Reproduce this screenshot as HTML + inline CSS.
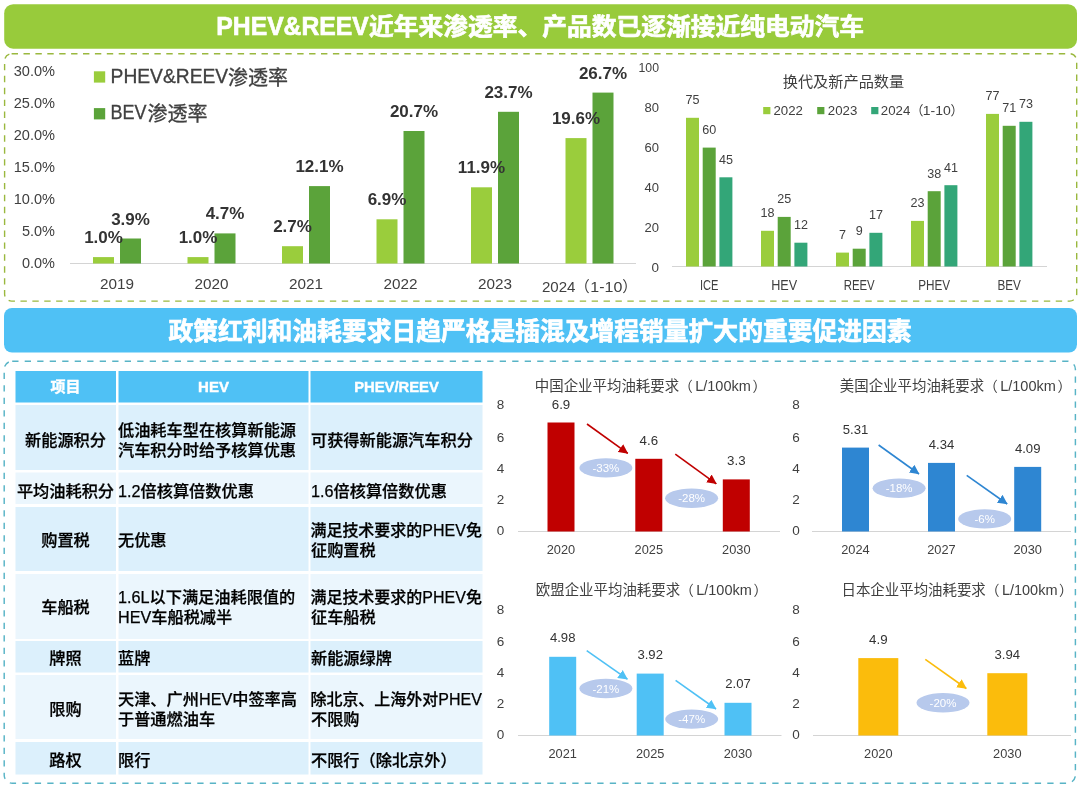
<!DOCTYPE html>
<html lang="zh-CN"><head><meta charset="utf-8"><title>PHEV&amp;REEV</title>
<style>html,body{margin:0;padding:0;background:#fff}body{width:1080px;height:790px;overflow:hidden}svg{display:block;font-family:'Liberation Sans', 'Noto Sans CJK SC', sans-serif}</style></head><body>
<svg width="1080" height="790" viewBox="0 0 1080 790">
<rect x="0" y="0" width="1080" height="790" fill="#ffffff"/>
<rect x="4.2" y="4.2" width="1072.8" height="44.5" fill="#98CB3B" rx="9" ry="9"/>
<text fill="#fff" font-weight="bold" stroke="#fff" stroke-width="0.65"><tspan x="216.3" y="35.4" font-size="25.5" textLength="152.5" lengthAdjust="spacingAndGlyphs">PHEV&amp;REEV</tspan><tspan x="369" y="34.8" font-size="24" textLength="495" lengthAdjust="spacingAndGlyphs">近年来渗透率、产品数已逐渐接近纯电动汽车</tspan></text>
<rect x="4.6" y="53.7" width="1072.1" height="247.4" rx="7" ry="7" fill="none" stroke="#9AB83E" stroke-width="1.4" stroke-dasharray="6.4 5.5"/>
<text x="55" y="76.3" font-size="15.3" fill="#404040" text-anchor="end" textLength="41.3" lengthAdjust="spacingAndGlyphs">30.0%</text>
<text x="55" y="108.3" font-size="15.3" fill="#404040" text-anchor="end" textLength="41.3" lengthAdjust="spacingAndGlyphs">25.0%</text>
<text x="55" y="140.3" font-size="15.3" fill="#404040" text-anchor="end" textLength="41.3" lengthAdjust="spacingAndGlyphs">20.0%</text>
<text x="55" y="172.3" font-size="15.3" fill="#404040" text-anchor="end" textLength="41.3" lengthAdjust="spacingAndGlyphs">15.0%</text>
<text x="55" y="204.3" font-size="15.3" fill="#404040" text-anchor="end" textLength="41.3" lengthAdjust="spacingAndGlyphs">10.0%</text>
<text x="55" y="236.3" font-size="15.3" fill="#404040" text-anchor="end" textLength="33" lengthAdjust="spacingAndGlyphs">5.0%</text>
<text x="55" y="268.3" font-size="15.3" fill="#404040" text-anchor="end" textLength="33" lengthAdjust="spacingAndGlyphs">0.0%</text>
<line x1="70" y1="263.5" x2="636" y2="263.5" stroke="#d4d4d4" stroke-width="1"/>
<rect x="93.9" y="71.3" width="11.3" height="11.3" fill="#9ACD3C"/>
<text fill="#404040" stroke="#404040" stroke-width="0.3"><tspan x="110.6" y="83.1" font-size="19.5" textLength="117.5" lengthAdjust="spacingAndGlyphs">PHEV&amp;REEV</tspan><tspan x="228" y="84.8" font-size="20">渗透率</tspan></text>
<rect x="93.9" y="108.1" width="11.3" height="11.3" fill="#5BA33A"/>
<text fill="#404040" stroke="#404040" stroke-width="0.3"><tspan x="110.6" y="119.4" font-size="19.5" textLength="36" lengthAdjust="spacingAndGlyphs">BEV</tspan><tspan x="147.5" y="121.3" font-size="20">渗透率</tspan></text>
<rect x="93.0" y="257.1" width="21" height="6.4" fill="#9ACD3C"/>
<rect x="120.0" y="238.5" width="21" height="25.0" fill="#5BA33A"/>
<rect x="187.5" y="257.1" width="21" height="6.4" fill="#9ACD3C"/>
<rect x="214.5" y="233.4" width="21" height="30.1" fill="#5BA33A"/>
<rect x="282.0" y="246.2" width="21" height="17.3" fill="#9ACD3C"/>
<rect x="309.0" y="186.1" width="21" height="77.4" fill="#5BA33A"/>
<rect x="376.5" y="219.3" width="21" height="44.2" fill="#9ACD3C"/>
<rect x="403.5" y="131.0" width="21" height="132.5" fill="#5BA33A"/>
<rect x="471.0" y="187.3" width="21" height="76.2" fill="#9ACD3C"/>
<rect x="498.0" y="111.8" width="21" height="151.7" fill="#5BA33A"/>
<rect x="565.5" y="138.1" width="21" height="125.4" fill="#9ACD3C"/>
<rect x="592.5" y="92.6" width="21" height="170.9" fill="#5BA33A"/>
<text x="103.5" y="243.1" font-size="17" fill="#333" text-anchor="middle" font-weight="bold">1.0%</text>
<text x="130.5" y="224.5" font-size="17" fill="#333" text-anchor="middle" font-weight="bold">3.9%</text>
<text x="117.0" y="289.2" font-size="15.5" fill="#404040" text-anchor="middle" textLength="34" lengthAdjust="spacingAndGlyphs">2019</text>
<text x="198.0" y="243.1" font-size="17" fill="#333" text-anchor="middle" font-weight="bold">1.0%</text>
<text x="225.0" y="219.4" font-size="17" fill="#333" text-anchor="middle" font-weight="bold">4.7%</text>
<text x="211.5" y="289.2" font-size="15.5" fill="#404040" text-anchor="middle" textLength="34" lengthAdjust="spacingAndGlyphs">2020</text>
<text x="292.5" y="232.2" font-size="17" fill="#333" text-anchor="middle" font-weight="bold">2.7%</text>
<text x="319.5" y="172.1" font-size="17" fill="#333" text-anchor="middle" font-weight="bold">12.1%</text>
<text x="306.0" y="289.2" font-size="15.5" fill="#404040" text-anchor="middle" textLength="34" lengthAdjust="spacingAndGlyphs">2021</text>
<text x="387.0" y="205.3" font-size="17" fill="#333" text-anchor="middle" font-weight="bold">6.9%</text>
<text x="414.0" y="117.0" font-size="17" fill="#333" text-anchor="middle" font-weight="bold">20.7%</text>
<text x="400.5" y="289.2" font-size="15.5" fill="#404040" text-anchor="middle" textLength="34" lengthAdjust="spacingAndGlyphs">2022</text>
<text x="481.5" y="173.3" font-size="17" fill="#333" text-anchor="middle" font-weight="bold">11.9%</text>
<text x="508.5" y="97.8" font-size="17" fill="#333" text-anchor="middle" font-weight="bold">23.7%</text>
<text x="495.0" y="289.2" font-size="15.5" fill="#404040" text-anchor="middle" textLength="34" lengthAdjust="spacingAndGlyphs">2023</text>
<text x="576.0" y="124.1" font-size="17" fill="#333" text-anchor="middle" font-weight="bold">19.6%</text>
<text x="603.0" y="78.6" font-size="17" fill="#333" text-anchor="middle" font-weight="bold">26.7%</text>
<text fill="#404040"><tspan x="542" y="292" font-size="15.5" textLength="33.5" lengthAdjust="spacingAndGlyphs">2024</tspan><tspan x="574.8" y="291.5" font-size="15">（</tspan><tspan x="590.3" y="292" font-size="15.5" textLength="32" lengthAdjust="spacingAndGlyphs">1-10</tspan><tspan x="622.3" y="291.5" font-size="15">）</tspan></text>
<text x="659" y="72.2" font-size="13" fill="#404040" text-anchor="end" textLength="20.5" lengthAdjust="spacingAndGlyphs">100</text>
<text x="659" y="112.2" font-size="13" fill="#404040" text-anchor="end" textLength="14.5" lengthAdjust="spacingAndGlyphs">80</text>
<text x="659" y="152.2" font-size="13" fill="#404040" text-anchor="end" textLength="14.5" lengthAdjust="spacingAndGlyphs">60</text>
<text x="659" y="192.2" font-size="13" fill="#404040" text-anchor="end" textLength="14.5" lengthAdjust="spacingAndGlyphs">40</text>
<text x="659" y="232.2" font-size="13" fill="#404040" text-anchor="end" textLength="14.5" lengthAdjust="spacingAndGlyphs">20</text>
<text x="659" y="272.2" font-size="13" fill="#404040" text-anchor="end" textLength="7.5" lengthAdjust="spacingAndGlyphs">0</text>
<line x1="672" y1="266.5" x2="1047" y2="266.5" stroke="#d4d4d4" stroke-width="1"/>
<text x="843.5" y="87" font-size="15.3" fill="#404040" text-anchor="middle" textLength="121.5" lengthAdjust="spacingAndGlyphs">换代及新产品数量</text>
<rect x="763.2" y="107" width="7.2" height="7.2" fill="#9ACD3C"/>
<text x="773.5" y="114.8" font-size="13.5" fill="#404040" textLength="29.5" lengthAdjust="spacingAndGlyphs">2022</text>
<rect x="817.2" y="107" width="7.2" height="7.2" fill="#5BA33A"/>
<text x="827.8" y="114.8" font-size="13.5" fill="#404040" textLength="29.5" lengthAdjust="spacingAndGlyphs">2023</text>
<rect x="871.2" y="107" width="7.2" height="7.2" fill="#33A678"/>
<text fill="#404040"><tspan x="880.8" y="114.8" font-size="13.5" textLength="29.5" lengthAdjust="spacingAndGlyphs">2024</tspan><tspan x="910.5" y="114.5" font-size="13">（</tspan><tspan x="922.8" y="114.8" font-size="13.5" textLength="28" lengthAdjust="spacingAndGlyphs">1-10</tspan><tspan x="950.6" y="114.5" font-size="13">）</tspan></text>
<rect x="686.0" y="117.8" width="13" height="148.7" fill="#9ACD3C"/>
<text x="692.5" y="104.2" font-size="13" fill="#404040" text-anchor="middle" textLength="14" lengthAdjust="spacingAndGlyphs">75</text>
<rect x="702.7" y="147.6" width="13" height="118.9" fill="#5BA33A"/>
<text x="709.2" y="134.0" font-size="13" fill="#404040" text-anchor="middle" textLength="14" lengthAdjust="spacingAndGlyphs">60</text>
<rect x="719.4" y="177.3" width="13" height="89.2" fill="#33A678"/>
<text x="725.9" y="163.7" font-size="13" fill="#404040" text-anchor="middle" textLength="14" lengthAdjust="spacingAndGlyphs">45</text>
<text x="709.2" y="290" font-size="13.8" fill="#404040" text-anchor="middle" textLength="18.5" lengthAdjust="spacingAndGlyphs">ICE</text>
<rect x="761.0" y="230.8" width="13" height="35.7" fill="#9ACD3C"/>
<text x="767.5" y="217.2" font-size="13" fill="#404040" text-anchor="middle" textLength="14" lengthAdjust="spacingAndGlyphs">18</text>
<rect x="777.7" y="216.9" width="13" height="49.5" fill="#5BA33A"/>
<text x="784.2" y="203.3" font-size="13" fill="#404040" text-anchor="middle" textLength="14" lengthAdjust="spacingAndGlyphs">25</text>
<rect x="794.4" y="242.7" width="13" height="23.8" fill="#33A678"/>
<text x="800.9" y="229.1" font-size="13" fill="#404040" text-anchor="middle" textLength="14" lengthAdjust="spacingAndGlyphs">12</text>
<text x="784.2" y="290" font-size="13.8" fill="#404040" text-anchor="middle" textLength="26" lengthAdjust="spacingAndGlyphs">HEV</text>
<rect x="836.0" y="252.6" width="13" height="13.9" fill="#9ACD3C"/>
<text x="842.5" y="239.0" font-size="13" fill="#404040" text-anchor="middle" textLength="7" lengthAdjust="spacingAndGlyphs">7</text>
<rect x="852.7" y="248.7" width="13" height="17.8" fill="#5BA33A"/>
<text x="859.2" y="235.1" font-size="13" fill="#404040" text-anchor="middle" textLength="7" lengthAdjust="spacingAndGlyphs">9</text>
<rect x="869.4" y="232.8" width="13" height="33.7" fill="#33A678"/>
<text x="875.9" y="219.2" font-size="13" fill="#404040" text-anchor="middle" textLength="14" lengthAdjust="spacingAndGlyphs">17</text>
<text x="859.2" y="290" font-size="13.8" fill="#404040" text-anchor="middle" textLength="31" lengthAdjust="spacingAndGlyphs">REEV</text>
<rect x="911.0" y="220.9" width="13" height="45.6" fill="#9ACD3C"/>
<text x="917.5" y="207.3" font-size="13" fill="#404040" text-anchor="middle" textLength="14" lengthAdjust="spacingAndGlyphs">23</text>
<rect x="927.7" y="191.2" width="13" height="75.3" fill="#5BA33A"/>
<text x="934.2" y="177.6" font-size="13" fill="#404040" text-anchor="middle" textLength="14" lengthAdjust="spacingAndGlyphs">38</text>
<rect x="944.4" y="185.2" width="13" height="81.3" fill="#33A678"/>
<text x="950.9" y="171.6" font-size="13" fill="#404040" text-anchor="middle" textLength="14" lengthAdjust="spacingAndGlyphs">41</text>
<text x="934.2" y="290" font-size="13.8" fill="#404040" text-anchor="middle" textLength="32" lengthAdjust="spacingAndGlyphs">PHEV</text>
<rect x="986.0" y="113.9" width="13" height="152.6" fill="#9ACD3C"/>
<text x="992.5" y="100.3" font-size="13" fill="#404040" text-anchor="middle" textLength="14" lengthAdjust="spacingAndGlyphs">77</text>
<rect x="1002.7" y="125.8" width="13" height="140.7" fill="#5BA33A"/>
<text x="1009.2" y="112.2" font-size="13" fill="#404040" text-anchor="middle" textLength="14" lengthAdjust="spacingAndGlyphs">71</text>
<rect x="1019.4" y="121.8" width="13" height="144.7" fill="#33A678"/>
<text x="1025.9" y="108.2" font-size="13" fill="#404040" text-anchor="middle" textLength="14" lengthAdjust="spacingAndGlyphs">73</text>
<text x="1009.2" y="290" font-size="13.8" fill="#404040" text-anchor="middle" textLength="23.5" lengthAdjust="spacingAndGlyphs">BEV</text>
<rect x="4" y="308" width="1073" height="44.5" fill="#4FC1F5" rx="8" ry="8"/>
<text x="168.5" y="340" font-size="24.5" fill="#fff" font-weight="bold" textLength="743" lengthAdjust="spacingAndGlyphs" stroke="#fff" stroke-width="0.7">政策红利和油耗要求日趋严格是插混及增程销量扩大的重要促进因素</text>
<rect x="4.2" y="361.2" width="1071.2" height="422" rx="8" ry="8" fill="none" stroke="#58B4C6" stroke-width="1.45" stroke-dasharray="6.3 6.2"/>
<rect x="15.5" y="371" width="100.5" height="31.5" fill="#4FC1F5"/>
<rect x="118.5" y="371" width="190.0" height="31.5" fill="#4FC1F5"/>
<rect x="310.5" y="371" width="172.0" height="31.5" fill="#4FC1F5"/>
<rect x="15.5" y="405" width="100.5" height="65" fill="#DCF0FC"/>
<rect x="118.5" y="405" width="190.0" height="65" fill="#DCF0FC"/>
<rect x="310.5" y="405" width="172.0" height="65" fill="#DCF0FC"/>
<rect x="15.5" y="472.5" width="100.5" height="31.5" fill="#EBF6FD"/>
<rect x="118.5" y="472.5" width="190.0" height="31.5" fill="#EBF6FD"/>
<rect x="310.5" y="472.5" width="172.0" height="31.5" fill="#EBF6FD"/>
<rect x="15.5" y="507" width="100.5" height="64" fill="#DCF0FC"/>
<rect x="118.5" y="507" width="190.0" height="64" fill="#DCF0FC"/>
<rect x="310.5" y="507" width="172.0" height="64" fill="#DCF0FC"/>
<rect x="15.5" y="574" width="100.5" height="65" fill="#EBF6FD"/>
<rect x="118.5" y="574" width="190.0" height="65" fill="#EBF6FD"/>
<rect x="310.5" y="574" width="172.0" height="65" fill="#EBF6FD"/>
<rect x="15.5" y="641" width="100.5" height="31.5" fill="#DCF0FC"/>
<rect x="118.5" y="641" width="190.0" height="31.5" fill="#DCF0FC"/>
<rect x="310.5" y="641" width="172.0" height="31.5" fill="#DCF0FC"/>
<rect x="15.5" y="675" width="100.5" height="64" fill="#EBF6FD"/>
<rect x="118.5" y="675" width="190.0" height="64" fill="#EBF6FD"/>
<rect x="310.5" y="675" width="172.0" height="64" fill="#EBF6FD"/>
<rect x="15.5" y="742" width="100.5" height="32.5" fill="#DCF0FC"/>
<rect x="118.5" y="742" width="190.0" height="32.5" fill="#DCF0FC"/>
<rect x="310.5" y="742" width="172.0" height="32.5" fill="#DCF0FC"/>
<text x="65.5" y="392.25" font-size="15" fill="#fff" text-anchor="middle" font-weight="bold" stroke="#fff" stroke-width="0.4">项目</text>
<text x="213.5" y="392.25" font-size="15" fill="#fff" text-anchor="middle" font-weight="bold" stroke="#fff" stroke-width="0.4">HEV</text>
<text x="396.5" y="392.25" font-size="15" fill="#fff" text-anchor="middle" font-weight="bold" textLength="84.5" lengthAdjust="spacingAndGlyphs" stroke="#fff" stroke-width="0.4">PHEV/REEV</text>
<text x="65.5" y="445.8" font-size="16.2" fill="#000" text-anchor="middle" font-weight="500" stroke="#000" stroke-width="0.25">新能源积分</text>
<text x="118" y="435.8" font-size="16.2" fill="#000" font-weight="500" stroke="#000" stroke-width="0.25">低油耗车型在核算新能源</text>
<text x="118" y="455.8" font-size="16.2" fill="#000" font-weight="500" stroke="#000" stroke-width="0.25">汽车积分时给予核算优惠</text>
<text x="311" y="445.8" font-size="16.2" fill="#000" font-weight="500" stroke="#000" stroke-width="0.25">可获得新能源汽车积分</text>
<text x="65.5" y="496.6" font-size="16.2" fill="#000" text-anchor="middle" font-weight="500" stroke="#000" stroke-width="0.25">平均油耗积分</text>
<text x="118" y="496.6" font-size="16.2" fill="#000" font-weight="500" stroke="#000" stroke-width="0.25">1.2倍核算倍数优惠</text>
<text x="311" y="496.6" font-size="16.2" fill="#000" font-weight="500" stroke="#000" stroke-width="0.25">1.6倍核算倍数优惠</text>
<text x="65.5" y="545.7" font-size="16.2" fill="#000" text-anchor="middle" font-weight="500" stroke="#000" stroke-width="0.25">购置税</text>
<text x="118" y="545.7" font-size="16.2" fill="#000" font-weight="500" stroke="#000" stroke-width="0.25">无优惠</text>
<text x="310.4" y="535.7" font-size="16.2" fill="#000" font-weight="500" textLength="171.5" lengthAdjust="spacingAndGlyphs" stroke="#000" stroke-width="0.25">满足技术要求的PHEV免</text>
<text x="311" y="555.7" font-size="16.2" fill="#000" font-weight="500" stroke="#000" stroke-width="0.25">征购置税</text>
<text x="65.5" y="613.4" font-size="16.2" fill="#000" text-anchor="middle" font-weight="500" stroke="#000" stroke-width="0.25">车船税</text>
<text x="118" y="603.4" font-size="16.2" fill="#000" font-weight="500" stroke="#000" stroke-width="0.25">1.6L以下满足油耗限值的</text>
<text x="118" y="623.4" font-size="16.2" fill="#000" font-weight="500" stroke="#000" stroke-width="0.25">HEV车船税减半</text>
<text x="310.4" y="603.4" font-size="16.2" fill="#000" font-weight="500" textLength="171.5" lengthAdjust="spacingAndGlyphs" stroke="#000" stroke-width="0.25">满足技术要求的PHEV免</text>
<text x="311" y="623.4" font-size="16.2" fill="#000" font-weight="500" stroke="#000" stroke-width="0.25">征车船税</text>
<text x="65.5" y="664.2" font-size="16.2" fill="#000" text-anchor="middle" font-weight="500" stroke="#000" stroke-width="0.25">牌照</text>
<text x="118" y="664.2" font-size="16.2" fill="#000" font-weight="500" stroke="#000" stroke-width="0.25">蓝牌</text>
<text x="311" y="664.2" font-size="16.2" fill="#000" font-weight="500" stroke="#000" stroke-width="0.25">新能源绿牌</text>
<text x="65.5" y="714.5" font-size="16.2" fill="#000" text-anchor="middle" font-weight="500" stroke="#000" stroke-width="0.25">限购</text>
<text x="118" y="704.5" font-size="16.2" fill="#000" font-weight="500" stroke="#000" stroke-width="0.25">天津、广州HEV中签率高</text>
<text x="118" y="724.5" font-size="16.2" fill="#000" font-weight="500" stroke="#000" stroke-width="0.25">于普通燃油车</text>
<text x="310.4" y="704.5" font-size="16.2" fill="#000" font-weight="500" textLength="171.5" lengthAdjust="spacingAndGlyphs" stroke="#000" stroke-width="0.25">除北京、上海外对PHEV</text>
<text x="311" y="724.5" font-size="16.2" fill="#000" font-weight="500" stroke="#000" stroke-width="0.25">不限购</text>
<text x="65.5" y="765.8" font-size="16.2" fill="#000" text-anchor="middle" font-weight="500" stroke="#000" stroke-width="0.25">路权</text>
<text x="118" y="765.8" font-size="16.2" fill="#000" font-weight="500" stroke="#000" stroke-width="0.25">限行</text>
<text x="311" y="765.8" font-size="16.2" fill="#000" font-weight="500" stroke="#000" stroke-width="0.25">不限行（除北京外）</text>
<defs>
<marker id="ahr" viewBox="0 0 10 10" refX="9.5" refY="5" markerWidth="9.6" markerHeight="10" markerUnits="userSpaceOnUse" orient="auto"><path d="M0,0 L10,5 L0,10 z" fill="#C00000"/></marker>
<marker id="ahb" viewBox="0 0 10 10" refX="9.5" refY="5" markerWidth="9.6" markerHeight="10" markerUnits="userSpaceOnUse" orient="auto"><path d="M0,0 L10,5 L0,10 z" fill="#2E86D2"/></marker>
<marker id="ahc" viewBox="0 0 10 10" refX="9.5" refY="5" markerWidth="9.6" markerHeight="10" markerUnits="userSpaceOnUse" orient="auto"><path d="M0,0 L10,5 L0,10 z" fill="#4FC1F5"/></marker>
<marker id="ahy" viewBox="0 0 10 10" refX="9.5" refY="5" markerWidth="9.6" markerHeight="10" markerUnits="userSpaceOnUse" orient="auto"><path d="M0,0 L10,5 L0,10 z" fill="#FBBC0C"/></marker>
</defs>
<text fill="#404040"><tspan x="534.8" y="391.3" font-size="14.35" textLength="144.3" lengthAdjust="spacingAndGlyphs">中国企业平均油耗要求</tspan><tspan x="678.7" y="391.3" font-size="14">（</tspan><tspan x="695.2" y="391.3" font-size="14.5" textLength="55.6" lengthAdjust="spacingAndGlyphs">L/100km</tspan><tspan x="752.4" y="391.3" font-size="14">）</tspan></text>
<text x="500.5" y="409.4" font-size="13.5" fill="#404040" text-anchor="middle">8</text>
<text x="500.5" y="441.9" font-size="13.5" fill="#404040" text-anchor="middle">6</text>
<text x="500.5" y="473.4" font-size="13.5" fill="#404040" text-anchor="middle">4</text>
<text x="500.5" y="504.4" font-size="13.5" fill="#404040" text-anchor="middle">2</text>
<text x="500.5" y="535.4" font-size="13.5" fill="#404040" text-anchor="middle">0</text>
<line x1="518" y1="531.5" x2="780" y2="531.5" stroke="#d4d4d4" stroke-width="1"/>
<rect x="547.5" y="422.5" width="27" height="109.0" fill="#C00000"/>
<text x="561.0" y="408.5" font-size="13.5" fill="#333" text-anchor="middle" textLength="18.5" lengthAdjust="spacingAndGlyphs">6.9</text>
<text x="561.0" y="554.1" font-size="13.5" fill="#404040" text-anchor="middle" textLength="28.5" lengthAdjust="spacingAndGlyphs">2020</text>
<rect x="635.3" y="458.8" width="27" height="72.7" fill="#C00000"/>
<text x="648.8" y="444.8" font-size="13.5" fill="#333" text-anchor="middle" textLength="18.5" lengthAdjust="spacingAndGlyphs">4.6</text>
<text x="648.8" y="554.1" font-size="13.5" fill="#404040" text-anchor="middle" textLength="28.5" lengthAdjust="spacingAndGlyphs">2025</text>
<rect x="722.8" y="479.4" width="27" height="52.1" fill="#C00000"/>
<text x="736.3" y="465.4" font-size="13.5" fill="#333" text-anchor="middle" textLength="18.5" lengthAdjust="spacingAndGlyphs">3.3</text>
<text x="736.3" y="554.1" font-size="13.5" fill="#404040" text-anchor="middle" textLength="28.5" lengthAdjust="spacingAndGlyphs">2030</text>
<ellipse cx="605.9" cy="467.9" rx="26.5" ry="9.7" fill="#B7C9EC"/>
<text x="605.9" y="471.9" font-size="11.5" fill="#fff" text-anchor="middle">-33%</text>
<ellipse cx="691.6" cy="498.2" rx="26.5" ry="9.7" fill="#B7C9EC"/>
<text x="691.6" y="502.2" font-size="11.5" fill="#fff" text-anchor="middle">-28%</text>
<line x1="587" y1="424" x2="627.8" y2="453.4" stroke="#C00000" stroke-width="1.6" marker-end="url(#ahr)"/>
<line x1="675.3" y1="454.2" x2="716.3" y2="483.8" stroke="#C00000" stroke-width="1.6" marker-end="url(#ahr)"/>
<text fill="#404040"><tspan x="839.8" y="391.3" font-size="14.35" textLength="144.3" lengthAdjust="spacingAndGlyphs">美国企业平均油耗要求</tspan><tspan x="983.7" y="391.3" font-size="14">（</tspan><tspan x="1000.2" y="391.3" font-size="14.5" textLength="55.6" lengthAdjust="spacingAndGlyphs">L/100km</tspan><tspan x="1057.4" y="391.3" font-size="14">）</tspan></text>
<text x="796" y="409.4" font-size="13.5" fill="#404040" text-anchor="middle">8</text>
<text x="796" y="441.9" font-size="13.5" fill="#404040" text-anchor="middle">6</text>
<text x="796" y="473.4" font-size="13.5" fill="#404040" text-anchor="middle">4</text>
<text x="796" y="504.4" font-size="13.5" fill="#404040" text-anchor="middle">2</text>
<text x="796" y="535.4" font-size="13.5" fill="#404040" text-anchor="middle">0</text>
<line x1="812" y1="531.5" x2="1071" y2="531.5" stroke="#d4d4d4" stroke-width="1"/>
<rect x="842" y="447.6" width="27" height="83.9" fill="#2E86D2"/>
<text x="855.5" y="433.6" font-size="13.5" fill="#333" text-anchor="middle" textLength="25.5" lengthAdjust="spacingAndGlyphs">5.31</text>
<text x="855.5" y="554.1" font-size="13.5" fill="#404040" text-anchor="middle" textLength="28.5" lengthAdjust="spacingAndGlyphs">2024</text>
<rect x="928" y="462.9" width="27" height="68.6" fill="#2E86D2"/>
<text x="941.5" y="448.9" font-size="13.5" fill="#333" text-anchor="middle" textLength="25.5" lengthAdjust="spacingAndGlyphs">4.34</text>
<text x="941.5" y="554.1" font-size="13.5" fill="#404040" text-anchor="middle" textLength="28.5" lengthAdjust="spacingAndGlyphs">2027</text>
<rect x="1014.2" y="466.9" width="27" height="64.6" fill="#2E86D2"/>
<text x="1027.7" y="452.9" font-size="13.5" fill="#333" text-anchor="middle" textLength="25.5" lengthAdjust="spacingAndGlyphs">4.09</text>
<text x="1027.7" y="554.1" font-size="13.5" fill="#404040" text-anchor="middle" textLength="28.5" lengthAdjust="spacingAndGlyphs">2030</text>
<ellipse cx="899.1" cy="488.2" rx="26.5" ry="9.7" fill="#B7C9EC"/>
<text x="899.1" y="492.2" font-size="11.5" fill="#fff" text-anchor="middle">-18%</text>
<ellipse cx="984.7" cy="518.9" rx="26.5" ry="9.7" fill="#B7C9EC"/>
<text x="984.7" y="522.9" font-size="11.5" fill="#fff" text-anchor="middle">-6%</text>
<line x1="878.6" y1="445" x2="919" y2="474" stroke="#2E86D2" stroke-width="1.6" marker-end="url(#ahb)"/>
<line x1="966.7" y1="475.3" x2="1007.2" y2="504" stroke="#2E86D2" stroke-width="1.6" marker-end="url(#ahb)"/>
<text fill="#404040"><tspan x="535.8" y="594.6" font-size="14.35" textLength="144.3" lengthAdjust="spacingAndGlyphs">欧盟企业平均油耗要求</tspan><tspan x="679.7" y="594.6" font-size="14">（</tspan><tspan x="696.2" y="594.6" font-size="14.5" textLength="55.6" lengthAdjust="spacingAndGlyphs">L/100km</tspan><tspan x="753.4" y="594.6" font-size="14">）</tspan></text>
<text x="500.5" y="614.4" font-size="13.5" fill="#404040" text-anchor="middle">8</text>
<text x="500.5" y="645.7" font-size="13.5" fill="#404040" text-anchor="middle">6</text>
<text x="500.5" y="676.9" font-size="13.5" fill="#404040" text-anchor="middle">4</text>
<text x="500.5" y="708.2" font-size="13.5" fill="#404040" text-anchor="middle">2</text>
<text x="500.5" y="739.4" font-size="13.5" fill="#404040" text-anchor="middle">0</text>
<line x1="518" y1="735.5" x2="781.5" y2="735.5" stroke="#d4d4d4" stroke-width="1"/>
<rect x="549.2" y="656.8" width="27" height="78.7" fill="#4FC1F5"/>
<text x="562.7" y="642.3" font-size="13.5" fill="#333" text-anchor="middle" textLength="25.5" lengthAdjust="spacingAndGlyphs">4.98</text>
<text x="562.7" y="757.6" font-size="13.5" fill="#404040" text-anchor="middle" textLength="28.5" lengthAdjust="spacingAndGlyphs">2021</text>
<rect x="636.7" y="673.6" width="27" height="61.9" fill="#4FC1F5"/>
<text x="650.2" y="659.1" font-size="13.5" fill="#333" text-anchor="middle" textLength="25.5" lengthAdjust="spacingAndGlyphs">3.92</text>
<text x="650.2" y="757.6" font-size="13.5" fill="#404040" text-anchor="middle" textLength="28.5" lengthAdjust="spacingAndGlyphs">2025</text>
<rect x="724.5" y="702.8" width="27" height="32.7" fill="#4FC1F5"/>
<text x="738.0" y="688.3" font-size="13.5" fill="#333" text-anchor="middle" textLength="25.5" lengthAdjust="spacingAndGlyphs">2.07</text>
<text x="738.0" y="757.6" font-size="13.5" fill="#404040" text-anchor="middle" textLength="28.5" lengthAdjust="spacingAndGlyphs">2030</text>
<ellipse cx="605.9" cy="688.5" rx="26.5" ry="9.7" fill="#B7C9EC"/>
<text x="605.9" y="692.5" font-size="11.5" fill="#fff" text-anchor="middle">-21%</text>
<ellipse cx="691.7" cy="719.1" rx="26.5" ry="9.7" fill="#B7C9EC"/>
<text x="691.7" y="723.1" font-size="11.5" fill="#fff" text-anchor="middle">-47%</text>
<line x1="586.7" y1="650.6" x2="627.4" y2="679.2" stroke="#4FC1F5" stroke-width="1.6" marker-end="url(#ahc)"/>
<line x1="675.6" y1="680.3" x2="716" y2="709" stroke="#4FC1F5" stroke-width="1.6" marker-end="url(#ahc)"/>
<text fill="#404040"><tspan x="841.5" y="594.6" font-size="14.35" textLength="144.3" lengthAdjust="spacingAndGlyphs">日本企业平均油耗要求</tspan><tspan x="985.4" y="594.6" font-size="14">（</tspan><tspan x="1001.9" y="594.6" font-size="14.5" textLength="55.6" lengthAdjust="spacingAndGlyphs">L/100km</tspan><tspan x="1059.1" y="594.6" font-size="14">）</tspan></text>
<text x="796" y="614.4" font-size="13.5" fill="#404040" text-anchor="middle">8</text>
<text x="796" y="645.7" font-size="13.5" fill="#404040" text-anchor="middle">6</text>
<text x="796" y="676.9" font-size="13.5" fill="#404040" text-anchor="middle">4</text>
<text x="796" y="708.2" font-size="13.5" fill="#404040" text-anchor="middle">2</text>
<text x="796" y="739.4" font-size="13.5" fill="#404040" text-anchor="middle">0</text>
<line x1="813" y1="735.5" x2="1071" y2="735.5" stroke="#d4d4d4" stroke-width="1"/>
<rect x="858.3" y="658.1" width="40" height="77.4" fill="#FBBC0C"/>
<text x="878.3" y="643.6" font-size="13.5" fill="#333" text-anchor="middle" textLength="18.5" lengthAdjust="spacingAndGlyphs">4.9</text>
<text x="878.3" y="757.6" font-size="13.5" fill="#404040" text-anchor="middle" textLength="28.5" lengthAdjust="spacingAndGlyphs">2020</text>
<rect x="987.3" y="673.2" width="40" height="62.3" fill="#FBBC0C"/>
<text x="1007.3" y="658.7" font-size="13.5" fill="#333" text-anchor="middle" textLength="25.5" lengthAdjust="spacingAndGlyphs">3.94</text>
<text x="1007.3" y="757.6" font-size="13.5" fill="#404040" text-anchor="middle" textLength="28.5" lengthAdjust="spacingAndGlyphs">2030</text>
<ellipse cx="943" cy="702.8" rx="26.5" ry="9.7" fill="#B7C9EC"/>
<text x="943" y="706.8" font-size="11.5" fill="#fff" text-anchor="middle">-20%</text>
<line x1="925.3" y1="659.4" x2="966.3" y2="688.5" stroke="#FBBC0C" stroke-width="1.6" marker-end="url(#ahy)"/>
</svg></body></html>
